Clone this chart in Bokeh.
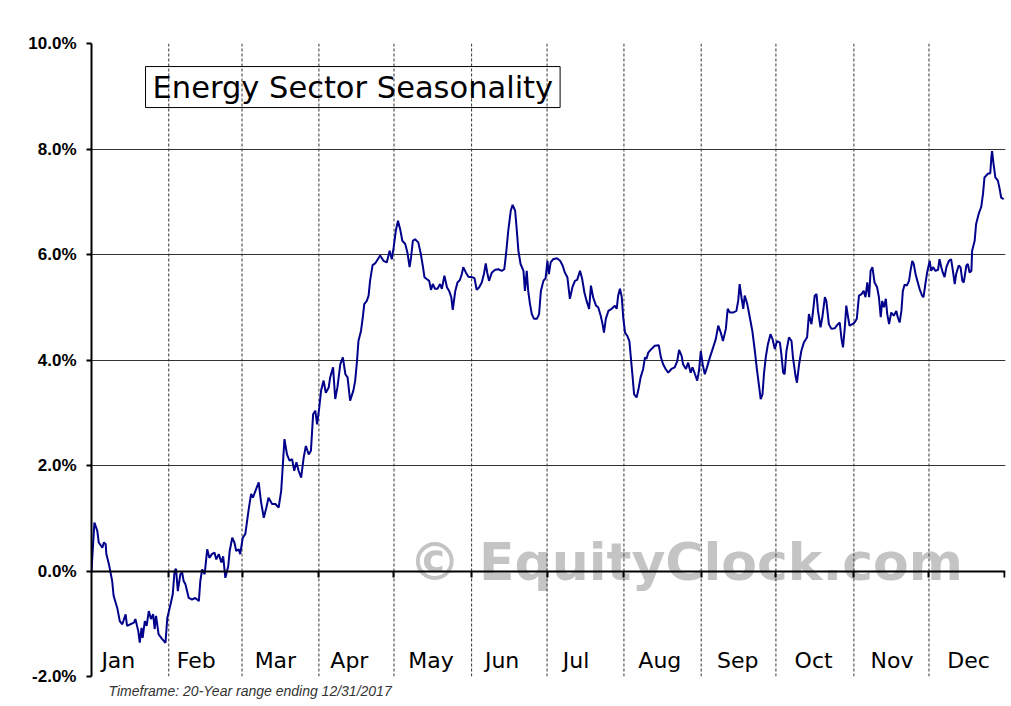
from bokeh.plotting import figure
from bokeh.models import (LinearAxis, FixedTicker, PrintfTickFormatter, Span, Label,
                          ColumnDataSource, Title, CustomJSTickFormatter)
from bokeh.embed import file_html
from bokeh.resources import INLINE

# ---- data: (trading day of year, seasonal return %) ----
jan = [(0.0, 0.00), (0.8, 0.92), (1.6, 0.76), (2.0, 0.54), (3.0, 0.44), (3.4, 0.54), (3.9, 0.51),
       (4.1, 0.32), (4.8, 0.13), (5.7, -0.19), (6.1, -0.47), (7.1, -0.70), (7.8, -0.95), (8.5, -1.01),
       (9.4, -0.82), (9.8, -1.04), (10.7, -1.01), (11.7, -0.98), (12.1, -0.91), (12.9, -1.14),
       (13.3, -1.36), (13.8, -1.08), (14.1, -1.27), (14.7, -0.95), (15.2, -1.04), (15.8, -0.76),
       (16.4, -0.91), (17.0, -0.82), (17.4, -1.10), (17.8, -0.85), (18.5, -1.20), (19.5, -1.29),
       (20.4, -1.36), (20.9, -0.89)]
feb = [(21.8, -0.63), (22.4, -0.44), (22.9, 0.00), (23.3, 0.04), (23.8, -0.38), (24.5, -0.06),
       (25.0, -0.03), (25.4, -0.19), (25.9, -0.25), (26.8, -0.51), (27.7, -0.54), (28.6, -0.51),
       (29.6, -0.57), (30.0, -0.19), (30.5, 0.03), (31.2, -0.06), (31.9, 0.41), (32.5, 0.25),
       (33.2, 0.32), (33.9, 0.35), (34.4, 0.22), (35.1, 0.32), (35.8, 0.16), (36.3, 0.28),
       (36.9, -0.13), (37.7, 0.09), (38.1, 0.38), (38.8, 0.63), (39.4, 0.54), (39.9, 0.38),
       (40.6, 0.41), (41.0, 0.32)]
mar = [(41.7, 0.63), (42.4, 0.70), (43.3, 1.15), (44.0, 1.46), (44.5, 1.39), (45.2, 1.52),
       (46.1, 1.68), (46.7, 1.33), (47.5, 1.01), (48.2, 1.20), (48.8, 1.39), (49.8, 1.27),
       (50.7, 1.27), (51.6, 1.20), (52.3, 1.52), (52.8, 2.06), (53.2, 2.50), (53.9, 2.21),
       (54.6, 2.09), (55.3, 2.12), (55.9, 1.90), (56.5, 2.06), (57.1, 1.90), (57.8, 1.77),
       (58.5, 2.15), (59.1, 2.37), (59.9, 2.21), (60.5, 2.28), (61.1, 2.97), (61.7, 3.04),
       (62.2, 2.78)]
apr = [(62.8, 3.10), (63.3, 3.42), (64.0, 3.61), (64.6, 3.38), (65.4, 3.48), (65.8, 3.67),
       (66.6, 3.86), (67.2, 3.26), (67.8, 3.48), (68.6, 3.92), (69.3, 4.05), (70.0, 3.73),
       (70.6, 3.67), (71.3, 3.23), (72.2, 3.42), (72.7, 3.61), (73.2, 3.98), (73.6, 4.36),
       (74.3, 4.55), (74.8, 4.81), (75.2, 5.06), (75.9, 5.12), (76.4, 5.22), (76.8, 5.50),
       (77.5, 5.80), (78.2, 5.83), (79.6, 5.98), (80.5, 5.88), (81.4, 5.85), (82.2, 6.07),
       (82.8, 5.91), (83.3, 6.13)]
may = [(83.9, 6.45), (84.5, 6.64), (85.1, 6.48), (85.7, 6.26), (86.5, 6.20), (87.1, 6.04),
       (87.7, 5.76), (88.1, 5.94), (88.6, 6.26), (89.2, 6.29), (90.1, 6.23), (90.8, 6.01),
       (91.4, 5.76), (91.8, 5.57), (92.5, 5.53), (93.1, 5.50), (93.6, 5.33), (94.1, 5.44),
       (94.7, 5.35), (95.4, 5.35), (96.1, 5.44), (96.6, 5.35), (97.3, 5.60), (98.0, 5.38),
       (98.6, 5.31), (99.2, 5.19), (99.6, 4.95), (100.3, 5.31), (100.9, 5.47), (101.6, 5.52),
       (102.1, 5.63), (102.5, 5.76), (103.2, 5.66), (103.9, 5.58)]
jun = [(104.9, 5.57), (105.6, 5.55), (106.2, 5.33), (106.9, 5.38), (107.6, 5.47), (108.2, 5.63),
       (108.7, 5.83), (109.1, 5.66), (109.6, 5.50), (110.4, 5.66), (111.3, 5.71), (112.2, 5.72),
       (113.1, 5.69), (113.8, 5.72), (114.3, 6.01), (114.9, 6.45), (115.6, 6.83), (116.1, 6.94),
       (116.8, 6.83), (117.2, 6.51), (117.7, 6.07), (118.3, 5.82), (119.1, 5.69), (119.5, 5.31),
       (120.0, 5.69), (120.4, 5.31), (120.9, 5.06), (121.4, 4.87), (122.0, 4.78), (122.8, 4.78),
       (123.4, 4.87), (123.9, 5.31), (124.6, 5.50), (125.2, 5.55)]
jul = [(125.7, 5.88), (126.1, 5.63), (126.6, 5.85), (127.3, 5.91), (128.3, 5.93), (129.2, 5.88),
       (129.9, 5.79), (130.5, 5.66), (131.2, 5.57), (131.9, 5.16), (132.6, 5.38), (133.3, 5.50),
       (133.9, 5.52), (134.7, 5.69), (135.3, 5.53), (135.9, 5.28), (136.5, 5.12), (137.2, 4.97),
       (137.7, 5.41), (138.3, 5.19), (139.1, 5.03), (139.7, 5.00), (140.4, 4.84), (140.9, 4.68),
       (141.3, 4.52), (141.8, 4.78), (142.5, 4.93), (143.4, 4.97), (144.3, 5.03), (144.8, 4.97),
       (145.2, 5.22), (145.7, 5.35), (146.2, 5.19), (146.6, 4.81)]
aug = [(147.1, 4.52), (147.7, 4.46), (148.3, 4.36), (148.7, 4.05), (149.2, 3.67), (149.6, 3.35),
       (150.3, 3.29), (150.9, 3.48), (151.4, 3.67), (152.1, 3.83), (152.6, 4.05), (153.0, 4.02),
       (153.5, 4.14), (154.4, 4.21), (155.3, 4.27), (156.4, 4.28), (157.0, 4.05), (157.6, 3.92),
       (158.3, 3.83), (159.0, 3.76), (159.9, 3.83), (160.8, 3.86), (161.5, 3.98), (162.0, 4.19),
       (162.7, 4.08), (163.1, 3.92), (163.9, 3.83), (164.5, 3.95), (165.2, 3.76), (165.7, 3.86),
       (166.4, 3.73), (167.0, 3.61), (167.5, 3.80)]
sep = [(168.0, 4.17), (168.5, 3.92), (169.1, 3.73), (169.7, 3.86), (170.5, 4.05), (171.4, 4.24),
       (172.1, 4.39), (172.8, 4.65), (173.5, 4.52), (174.1, 4.36), (174.9, 4.59), (175.4, 4.97),
       (176.0, 4.90), (176.9, 4.90), (177.8, 4.93), (178.3, 5.12), (178.7, 5.44), (179.2, 5.19),
       (179.7, 4.97), (180.1, 5.22), (180.8, 5.06), (181.5, 4.81), (182.2, 4.55), (182.9, 4.17),
       (183.5, 3.80), (184.1, 3.48), (184.5, 3.26), (185.0, 3.35), (185.4, 3.73), (185.9, 4.05),
       (186.5, 4.30), (187.2, 4.49), (187.8, 4.39), (188.4, 4.21)]
oct_ = [(189.0, 4.36), (189.8, 4.33), (190.2, 4.11), (190.7, 3.76), (191.1, 3.73), (191.6, 4.17),
        (192.3, 4.43), (193.0, 4.36), (193.4, 4.05), (194.1, 3.70), (194.5, 3.57), (195.1, 3.92),
        (195.7, 4.17), (196.4, 4.33), (197.3, 4.43), (197.8, 4.87), (198.5, 4.68), (198.9, 4.90),
        (199.4, 5.22), (199.9, 5.25), (200.3, 4.93), (201.0, 4.62), (201.5, 4.81), (202.2, 5.19),
        (202.6, 5.12), (203.3, 4.68), (204.0, 4.59), (204.9, 4.60), (205.8, 4.68), (206.3, 4.71),
        (206.8, 4.39), (207.2, 4.24), (207.7, 4.62), (208.1, 5.03), (208.6, 4.81), (209.0, 4.65),
        (209.8, 4.68)]
nov = [(210.4, 4.71), (211.0, 4.78), (211.6, 5.22), (212.3, 5.25), (212.9, 5.31), (213.4, 5.19),
       (213.9, 5.47), (214.4, 5.19), (214.8, 5.69), (215.3, 5.76), (215.9, 5.47), (216.6, 5.38),
       (217.1, 5.19), (217.6, 4.81), (218.0, 5.12), (218.5, 5.00), (219.0, 5.16), (219.4, 4.87),
       (219.9, 4.68), (220.5, 4.90), (221.2, 4.84), (221.9, 4.93), (222.3, 4.81), (222.8, 4.71),
       (223.3, 4.93), (223.7, 5.31), (224.2, 5.43), (224.8, 5.41), (225.4, 5.50), (225.8, 5.69),
       (226.3, 5.88), (226.7, 5.82), (227.2, 5.63), (227.7, 5.50), (228.3, 5.35), (229.0, 5.22),
       (229.4, 5.19), (229.9, 5.44), (230.4, 5.66)]
dec = [(231.1, 5.88), (231.5, 5.69), (232.0, 5.76), (232.7, 5.69), (233.4, 5.71), (233.8, 5.91),
       (234.3, 5.76), (234.7, 5.66), (235.2, 5.57), (235.7, 5.76), (236.4, 5.88), (237.0, 5.91),
       (237.5, 5.69), (238.0, 5.44), (238.4, 5.63), (239.1, 5.79), (239.6, 5.76), (240.1, 5.50),
       (240.5, 5.47), (241.2, 5.79), (241.6, 5.82), (242.1, 5.66), (242.6, 5.69), (242.8, 6.07),
       (243.5, 6.26), (243.9, 6.58), (244.6, 6.77), (245.3, 6.90), (245.8, 7.15), (246.2, 7.46),
       (247.1, 7.53), (247.8, 7.54), (248.1, 7.84), (248.3, 7.96), (248.7, 7.72), (249.2, 7.46),
       (249.9, 7.40), (250.4, 7.24), (250.8, 7.08), (251.5, 7.05)]

month_names = ["Jan", "Feb", "Mar", "Apr", "May", "Jun", "Jul", "Aug", "Sep", "Oct", "Nov", "Dec"]
month_label_day = [7.4, 28.9, 50.7, 71.1, 93.6, 113.2, 133.6, 156.7, 178.2, 199.1, 220.7, 241.8]
month_bounds = [21.3, 41.5, 62.7, 83.4, 104.8, 125.6, 146.8, 168.1, 188.7, 210.2, 230.9, 251.7]
y_ticks = [-2, 0, 2, 4, 6, 8, 10]
grid_levels = [2, 4, 6, 8]

title_text = "Energy Sector Seasonality"
footer_text = "Timeframe: 20-Year range ending 12/31/2017"
watermark_text = "\u00a9 EquityClock.com"

samples = jan + feb + mar + apr + may + jun + jul + aug + sep + oct_ + nov + dec
days = [d for d, _ in samples]
pct = [v for _, v in samples]

p = figure(width=1008, height=704, x_range=(0, 252), y_range=(-2, 10),
           output_backend="svg", toolbar_location=None, x_axis_location=None,
           min_border_left=91, min_border_right=3, min_border_top=43, min_border_bottom=28)
p.outline_line_color = None
p.background_fill_color = "white"
p.border_fill_color = "white"

# watermark (behind everything)
p.add_layout(Label(x=87.5, y=0.18, text=watermark_text, text_font="DejaVu Sans",
                   text_font_style="bold", text_font_size="52px", text_color="#c4c4c4",
                   text_baseline="middle", text_align="left", level="underlay"))

# horizontal grid
p.xgrid.visible = False
p.ygrid.ticker = FixedTicker(ticks=grid_levels)
p.ygrid.grid_line_color = "#333333"
p.ygrid.grid_line_width = 1

# month separators
for b in month_bounds[:-1]:
    p.add_layout(Span(location=b, dimension="height", line_color="#333333", line_width=1,
                      line_dash="3 2", level="underlay"))

# left axis
p.yaxis.ticker = FixedTicker(ticks=y_ticks)
p.yaxis.formatter = PrintfTickFormatter(format="%.1f%%")
p.yaxis.major_label_text_font = "Liberation Sans"
p.yaxis.major_label_text_font_style = "bold"
p.yaxis.major_label_text_font_size = "17px"
p.yaxis.major_label_text_color = "black"
p.yaxis.axis_line_width = 2
p.yaxis.axis_line_color = "black"
p.yaxis.major_tick_line_width = 2
p.yaxis.major_tick_out = 5
p.yaxis.major_tick_in = 0
p.yaxis.minor_tick_line_color = None
p.yaxis.major_label_standoff = 10

# x axis drawn along the 0% line, ticks pointing down
xaxis = LinearAxis(fixed_location=0, ticker=FixedTicker(ticks=month_bounds),
                   formatter=CustomJSTickFormatter(code="return ''"),
                   axis_line_width=2, axis_line_color="black",
                   major_tick_line_width=2, major_tick_out=0, major_tick_in=6,
                   minor_tick_line_color=None, major_label_standoff=0)
p.add_layout(xaxis, "above")

# series
src = ColumnDataSource(dict(x=days, y=pct))
p.line("x", "y", source=src, line_color="#00008b", line_width=2)

# month labels
for name, d in zip(month_names, month_label_day):
    p.add_layout(Label(x=d, y=-1.70, text=name, text_font="DejaVu Sans", text_font_size="22px",
                       text_color="black", text_align="center", text_baseline="middle"))

# title box
p.add_layout(Label(x=14.9, y=9.563, text=title_text, text_font="DejaVu Sans",
                   text_font_size="30.5px", text_color="black", anchor="top_left",
                   border_line_color="black", border_line_width=1,
                   background_fill_color=None, padding=(7, 3)))

# footer
p.add_layout(Title(text=footer_text, align="left", offset=17, standoff=9,
                   text_font="Liberation Sans", text_font_style="italic",
                   text_font_size="14px", text_color="#333333"), "below")

open("out.html", "w").write(file_html(p, INLINE))
